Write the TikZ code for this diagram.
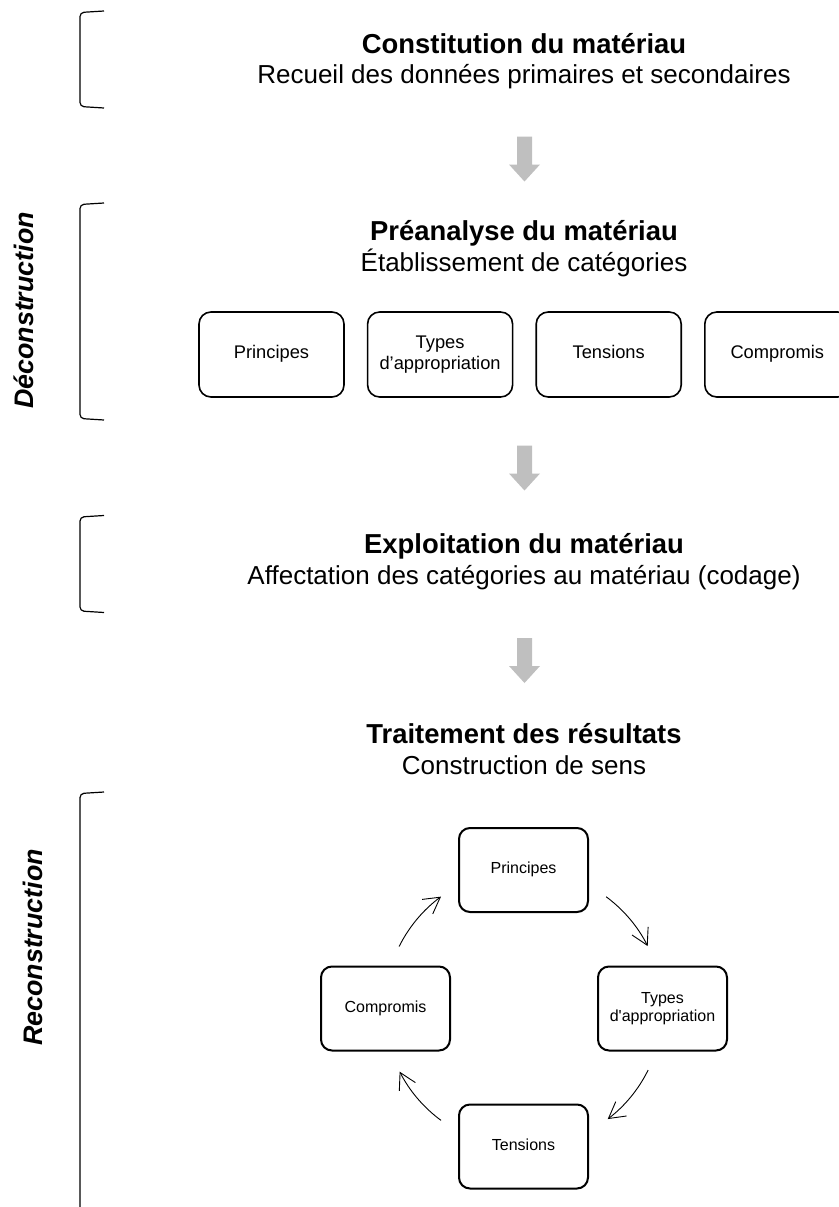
\documentclass[tikz,border=0pt]{standalone}
\usepackage{fontspec}
\setmainfont{Liberation Sans}
\usetikzlibrary{arrows.meta,positioning,calc}
\definecolor{arrowgray}{RGB}{191,191,191}
\tikzstyle{stagetitle} = [anchor=base, inner sep=0pt, font=\fontsize{27.4}{31}\selectfont\bfseries]
\tikzstyle{stagetext} = [anchor=base, inner sep=0pt, font=\fontsize{26}{31}\selectfont]
\tikzstyle{cat} = [rectangle, rounded corners=12pt, draw, line width=1.6pt, minimum width=145pt, minimum height=85pt, align=center, font=\fontsize{18.3}{21}\selectfont]
\tikzstyle{loopbox} = [rectangle, rounded corners=11pt, draw, line width=2pt, minimum width=129pt, minimum height=84pt, align=center, font=\fontsize{16}{18}\selectfont]
\tikzstyle{cyc} = [line width=0.9pt, -{Straight Barb[length=16pt,width=18pt]}]
\tikzstyle{bracket} = [line width=1.2pt, rounded corners=4pt]
\tikzstyle{phase} = [rotate=90, anchor=base, inner sep=0pt, font=\fontsize{26.8}{30}\selectfont\bfseries\itshape]
% struts that keep one-line labels centred on their caps
\newcommand{\catstrut}{\rule[-5pt]{0pt}{18pt}}
\newcommand{\loopstrut}{\rule[-4.5pt]{0pt}{16pt}}
% grey block arrow pointing down, centred on a named coordinate
\newcommand{\blockarrow}[1]{\fill[arrowgray] ($(#1)+(-7.5,-22.5)$) -- ($(#1)+(7.5,-22.5)$) -- ($(#1)+(7.5,5.5)$) -- ($(#1)+(15.5,5.5)$) -- ($(#1)+(0,22.5)$) -- ($(#1)+(-15.5,5.5)$) -- ($(#1)+(-7.5,5.5)$) -- cycle;}

\begin{document}
\begin{tikzpicture}[x=1pt, y=-1pt]
\useasboundingbox (0,0) rectangle (838,1207);

% brackets on the left
\draw[bracket] (104,11) -- (80,12.5) -- (80,106.5) -- (104,108);
\draw[bracket] (104,203) -- (80,204.5) -- (80,418.5) -- (104,420);
\draw[bracket] (104,515.5) -- (80,517) -- (80,611) -- (104,612.5);
\draw[bracket] (104,792) -- (80,793.5) -- (80,1215);

\node[phase] (deco) at (33,310.5) {Déconstruction};
\node[phase] (reco) at (42,947.5) {Reconstruction};

% stages
\node[stagetitle] (t1) at (524,53.5) {Constitution du matériau};
\node[stagetext] (d1) at (524,83.5) {Recueil des données primaires et secondaires};
\node[stagetitle] (t2) at (524,240) {Préanalyse du matériau};
\node[stagetext] (d2) at (524,271) {Établissement de catégories};
\node[stagetitle] (t3) at (524,553.5) {Exploitation du matériau};
\node[stagetext] (d3) at (524,584.5) {Affectation des catégories au matériau (codage)};
\node[stagetitle] (t4) at (524,743) {Traitement des résultats};
\node[stagetext] (d4) at (524,774) {Construction de sens};

\coordinate (arr1) at (524.5,159);
\coordinate (arr2) at (524.5,468);
\coordinate (arr3) at (524.5,660.5);
\blockarrow{arr1}
\blockarrow{arr2}
\blockarrow{arr3}

% categories
\node[cat] (c1) at (271.5,354.5) {\catstrut Principes};
\node[cat, right=22pt of c1] (c2) {Types\\d’appropriation};
\node[cat, right=22pt of c2] (c3) {\catstrut Tensions};
\node[cat, right=22pt of c3] (c4) {\catstrut Compromis};

% cycle
\coordinate (hub) at (523.5,1008.5);
\node[loopbox] (lp) at (523.5,870) {\loopstrut Principes};
\node[loopbox] (lt) at (662.5,1008.5) {Types\\d\textquotesingle appropriation};
\node[loopbox] (lte) at (523.5,1146.5) {\loopstrut Tensions};
\node[loopbox] (lc) at (385.5,1008.5) {\loopstrut Compromis};

\foreach \a/\b in {-53.5/-26.7, 26.3/52.7, 126.4/153, -153.5/-126.4}
  \draw[cyc] ($(hub)+(\a:139)$) arc[start angle=\a, end angle=\b, radius=139];
\end{tikzpicture}
\end{document}
